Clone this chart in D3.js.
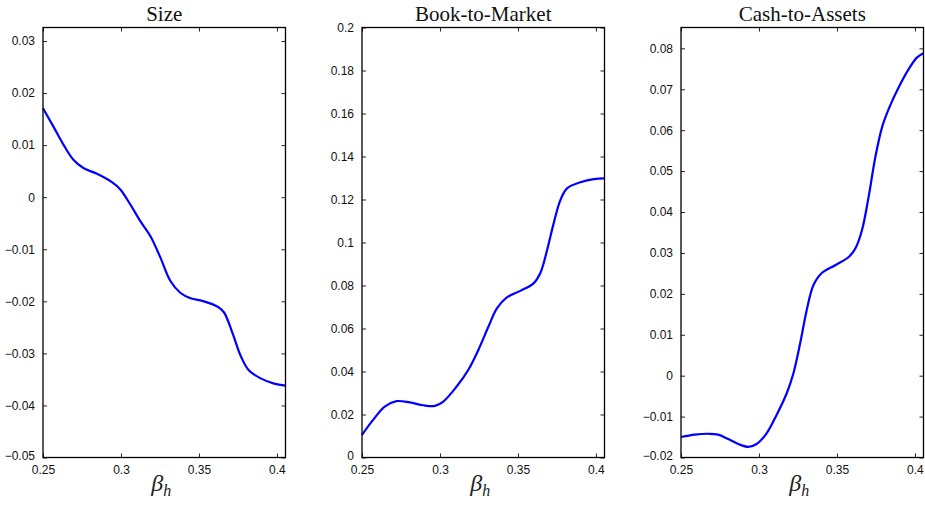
<!DOCTYPE html>
<html>
<head>
<meta charset="utf-8">
<script src="https://cdn.jsdelivr.net/npm/d3@7"></script>
<style>
  body { margin: 0; background: #fff; }
  svg { display: block; }
  .tick text { font-family: "Liberation Sans", Arial, sans-serif; font-size: 12px; fill: #111; }
  .title { font-family: "Liberation Serif", "DejaVu Serif", serif; font-size: 21px; fill: #111; }
  .xlabel { font-family: "Liberation Serif", "DejaVu Serif", serif; font-style: italic; fill: #222; }
</style>
</head>
<body>
<svg id="chart" width="925" height="507"></svg>
<script>
// beta_h on x, response on y
const titles = ['Size', 'Book-to-Market', 'Cash-to-Assets'];
const xTicks = [0.25, 0.3, 0.35, 0.4];

const sizeX = [0.25, 0.2566, 0.2631, 0.2695, 0.2759, 0.2846, 0.2942, 0.2996, 0.306, 0.3124, 0.3189, 0.3253, 0.3317, 0.3382, 0.3446, 0.3532, 0.3618, 0.366, 0.3714, 0.3768, 0.3821, 0.3896, 0.3982, 0.4055];
const sizeY = [0.0171, 0.0136, 0.0101, 0.0072, 0.0056, 0.0045, 0.0029, 0.0015, -0.0014, -0.0046, -0.0075, -0.0116, -0.0161, -0.0184, -0.0194, -0.0200, -0.0210, -0.0221, -0.0260, -0.0305, -0.0333, -0.0348, -0.0358, -0.0362];

const btmX = [0.25, 0.2571, 0.2646, 0.2721, 0.2807, 0.2893, 0.2968, 0.3021, 0.3107, 0.3182, 0.3246, 0.3311, 0.3365, 0.3429, 0.3515, 0.36, 0.3643, 0.3687, 0.3729, 0.3772, 0.3815, 0.3901, 0.3987, 0.4055];
const btmY = [0.0105, 0.0175, 0.0237, 0.0262, 0.0256, 0.0243, 0.0240, 0.0260, 0.0330, 0.0408, 0.0500, 0.0609, 0.0694, 0.0745, 0.0775, 0.0810, 0.0857, 0.0965, 0.1089, 0.1197, 0.1252, 0.1280, 0.1295, 0.1298];

const ctaX = [0.25, 0.2588, 0.2674, 0.2738, 0.2803, 0.2867, 0.2931, 0.2985, 0.3049, 0.3113, 0.3178, 0.3221, 0.3264, 0.3306, 0.3349, 0.3403, 0.3489, 0.3575, 0.3618, 0.366, 0.3703, 0.3746, 0.3789, 0.3832, 0.3896, 0.3961, 0.4014, 0.4055];
const ctaY = [-0.0150, -0.0144, -0.0142, -0.0144, -0.0155, -0.0167, -0.0174, -0.0167, -0.0141, -0.0096, -0.0043, 0.0006, 0.0079, 0.0160, 0.0221, 0.0251, 0.0270, 0.0290, 0.0311, 0.0355, 0.0437, 0.0534, 0.0607, 0.0652, 0.0705, 0.0750, 0.0778, 0.0788];

const sizeTicks = [-0.05, -0.04, -0.03, -0.02, -0.01, 0, 0.01, 0.02, 0.03];
const btmTicks = [0, 0.02, 0.04, 0.06, 0.08, 0.1, 0.12, 0.14, 0.16, 0.18, 0.2];
const ctaTicks = [-0.02, -0.01, 0, 0.01, 0.02, 0.03, 0.04, 0.05, 0.06, 0.07, 0.08];

const panels = [
    { title: titles[0], xs: sizeX, ys: sizeY, yDomain: [-0.05, 0.0326], yTicks: sizeTicks, left: 43 },
    { title: titles[1], xs: btmX, ys: btmY, yDomain: [0, 0.2], yTicks: btmTicks, left: 362 },
    { title: titles[2], xs: ctaX, ys: ctaY, yDomain: [-0.02, 0.0851], yTicks: ctaTicks, left: 681 },
];

const svg = d3.select('#chart');
const plotTop = 27.5, plotBottom = 457.5, plotWidth = 242.5;

function fmt(v) {
    let s = d3.format('~g')(+v.toFixed(4));
    return s.replace('-', '\u2212');
}

panels.forEach((p) => {
    const x = d3.scaleLinear().domain([0.25, 0.4055]).range([p.left, p.left + plotWidth]);
    const y = d3.scaleLinear().domain(p.yDomain).range([plotBottom, plotTop]);
    const g = svg.append('g');

    // mirrored inward ticks on all four sides
    const tickLen = 4;
    const bottomAxis = g.append('g').attr('transform', `translate(0,${plotBottom})`)
        .call(d3.axisBottom(x).tickValues(xTicks).tickSize(-tickLen).tickPadding(7.5).tickFormat(fmt));
    const topAxis = g.append('g').attr('transform', `translate(0,${plotTop})`)
        .call(d3.axisTop(x).tickValues(xTicks).tickSize(-tickLen).tickFormat(''));
    const leftAxis = g.append('g').attr('transform', `translate(${p.left},0)`)
        .call(d3.axisLeft(y).tickValues(p.yTicks).tickSize(-tickLen).tickPadding(8).tickFormat(fmt));
    const rightAxis = g.append('g').attr('transform', `translate(${p.left + plotWidth},0)`)
        .call(d3.axisRight(y).tickValues(p.yTicks).tickSize(-tickLen).tickFormat(''));

    [bottomAxis, topAxis, leftAxis, rightAxis].forEach((a) => {
        a.attr('font-family', null).attr('font-size', null);
        a.select('.domain').remove();
        a.selectAll('.tick line').attr('stroke', '#222').attr('stroke-width', 1);
    });
    // lowest y label sits a touch above its tick, as in the original
    leftAxis.selectAll('.tick text').filter((d) => d === p.yTicks[0]).attr('dy', '0.2em');

    const pts = p.xs.map((v, i) => [v, p.ys[i]]);
    const line = d3.line().x((d) => x(d[0])).y((d) => y(d[1])).curve(d3.curveCatmullRom.alpha(0.5));
    g.append('path')
        .attr('d', line(pts))
        .attr('fill', 'none')
        .attr('stroke', '#0000ff')
        .attr('stroke-width', 2.2);

    g.append('rect')
        .attr('x', p.left).attr('y', plotTop)
        .attr('width', plotWidth).attr('height', plotBottom - plotTop)
        .attr('fill', 'none').attr('stroke', '#000').attr('stroke-width', 1.3);

    g.append('text')
        .attr('class', 'title')
        .attr('x', p.left + plotWidth / 2).attr('y', 21)
        .attr('text-anchor', 'middle')
        .text(p.title);

    const lab = g.append('text')
        .attr('class', 'xlabel')
        .attr('x', p.left + plotWidth / 2 - 3).attr('y', 491)
        .attr('text-anchor', 'middle');
    lab.append('tspan').attr('font-size', 24).text('\u03b2');
    lab.append('tspan').attr('font-size', 16).attr('dy', 5).text('h');
});
</script>
</body>
</html>
